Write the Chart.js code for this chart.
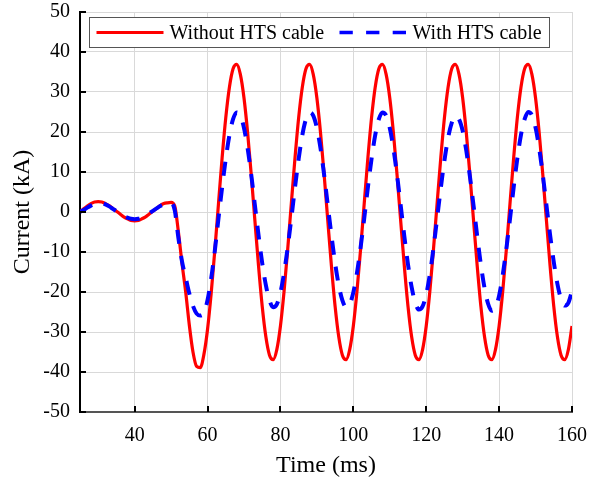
<!DOCTYPE html>
<html>
<head>
<meta charset="utf-8">
<script src="https://cdn.jsdelivr.net/npm/chart.js@4.4.0/dist/chart.umd.min.js"></script>
<style>
    html, body { margin: 0; padding: 0; background: #fff; }
    #wrap { width: 589px; height: 482px; }
</style>
</head>
<body>
<div id="wrap"><canvas id="current-chart" width="589" height="482"></canvas></div>
<script>
    // Sample times (ms)
    const timeMs = [
        25, 26, 27, 28, 29, 30, 31, 32, 33, 34,
        35, 36, 37, 38, 39, 40, 41, 42, 43, 44,
        45, 46, 47, 48, 49, 50, 51, 52, 53, 54,
        55, 56, 57, 58, 59, 60, 61, 62, 63, 64,
        65, 66, 67, 68, 69, 70, 71, 72, 73, 74,
        75, 76, 77, 78, 79, 80, 81, 82, 83, 84,
        85, 86, 87, 88, 89, 90, 91, 92, 93, 94,
        95, 96, 97, 98, 99, 100, 101, 102, 103, 104,
        105, 106, 107, 108, 109, 110, 111, 112, 113, 114,
        115, 116, 117, 118, 119, 120, 121, 122, 123, 124,
        125, 126, 127, 128, 129, 130, 131, 132, 133, 134,
        135, 136, 137, 138, 139, 140, 141, 142, 143, 144,
        145, 146, 147, 148, 149, 150, 151, 152, 153, 154,
        155, 156, 157, 158, 159, 160
    ];

    // Fault current without the HTS cable (kA)
    const currentWithout = [
        0.0, 0.8, 1.5, 2.1, 2.5, 2.6, 2.5, 2.1, 1.6, 0.9,
        0.2, -0.5, -1.2, -1.7, -2.1, -2.2, -2.1, -1.7, -1.2, -0.5,
        0.2, 0.9, 1.6, 2.1, 2.3, 2.4, 1.5, -5.0, -12.9, -20.0,
        -28.3, -35.0, -38.6, -38.9, -35.6, -29.3, -20.3, -9.5, 2.1, 13.6,
        23.6, 31.2, 35.8, 36.9, 34.4, 28.5, 19.8, 9.2, -2.3, -13.6,
        -23.6, -31.2, -35.8, -36.9, -34.4, -28.5, -19.8, -9.2, 2.3, 13.6,
        23.6, 31.2, 35.8, 36.9, 34.4, 28.5, 19.8, 9.2, -2.3, -13.6,
        -23.6, -31.2, -35.8, -36.9, -34.4, -28.5, -19.8, -9.2, 2.3, 13.6,
        23.6, 31.2, 35.8, 36.9, 34.4, 28.5, 19.8, 9.2, -2.3, -13.6,
        -23.6, -31.2, -35.8, -36.9, -34.4, -28.5, -19.8, -9.2, 2.3, 13.6,
        23.6, 31.2, 35.8, 36.9, 34.4, 28.5, 19.8, 9.2, -2.3, -13.6,
        -23.6, -31.2, -35.8, -36.9, -34.4, -28.5, -19.8, -9.2, 2.3, 13.6,
        23.6, 31.2, 35.8, 36.9, 34.4, 28.5, 19.8, 9.2, -2.3, -13.6,
        -23.6, -31.2, -35.8, -36.9, -34.4, -28.5
    ];

    // Fault current with the HTS cable (kA)
    const currentWith = [
        0.0, 0.5, 1.1, 1.6, 2.0, 2.2, 2.2, 1.9, 1.4, 0.8,
        0.2, -0.4, -1.0, -1.4, -1.7, -1.8, -1.7, -1.4, -0.9, -0.3,
        0.3, 0.9, 1.5, 1.9, 2.2, 2.3, 0.4, -6.5, -12.4, -16.4,
        -20.4, -23.5, -25.4, -25.9, -25.2, -22.0, -16.6, -9.6, -1.6, 6.2,
        13.3, 19.2, 23.2, 24.9, 24.1, 21.0, 15.9, 9.2, 1.6, -5.9,
        -12.8, -18.3, -22.1, -23.8, -23.1, -20.1, -15.2, -8.8, -1.5, 6.2,
        13.3, 19.2, 23.2, 24.9, 24.1, 21.0, 15.9, 9.2, 1.6, -5.9,
        -12.8, -18.3, -22.1, -23.8, -23.1, -20.1, -15.2, -8.8, -1.5, 6.2,
        13.3, 19.2, 23.2, 24.9, 24.1, 21.0, 15.9, 9.2, 1.6, -6.1,
        -13.1, -18.8, -22.7, -24.4, -23.6, -20.6, -15.6, -9.0, -1.5, 6.0,
        12.9, 18.5, 22.3, 24.0, 23.2, 20.3, 15.3, 8.8, 1.5, -6.1,
        -13.2, -19.0, -23.0, -24.7, -23.9, -20.9, -15.7, -9.1, -1.6, 6.2,
        13.4, 19.3, 23.2, 25.0, 24.2, 21.1, 15.9, 9.2, 1.6, -5.8,
        -12.5, -18.0, -21.8, -23.4, -22.7, -19.8
    ];

    const xTicks = [40, 60, 80, 100, 120, 140, 160];
    const yTicks = [-50, -40, -30, -20, -10, 0, 10, 20, 30, 40, 50];

    const seriesLabels = ['Without HTS cable', 'With HTS cable'];

    const SERIF = "'Liberation Serif', 'Times New Roman', serif";
    const GRID = '#d9d9d9';

    function toPoints(values) {
        return values.map((v, i) => ({ x: timeMs[i], y: v }));
    }

    // Inward tick marks and the boxed legend inside the plot
    const framePlugin = {
        id: 'frame',
        afterDraw(chart) {
            const ctx = chart.ctx;
            const area = chart.chartArea;
            const xs = chart.scales.x;
            const ys = chart.scales.y;

            ctx.save();
            ctx.strokeStyle = '#000';
            ctx.lineWidth = 2;
            ctx.beginPath();
            xTicks.forEach(v => {
                const px = Math.round(xs.getPixelForValue(v));
                ctx.moveTo(px, area.bottom);
                ctx.lineTo(px, area.bottom - 6);
            });
            yTicks.forEach(v => {
                const py = Math.round(ys.getPixelForValue(v));
                ctx.moveTo(area.left, py);
                ctx.lineTo(area.left + 6, py);
            });
            ctx.stroke();

            // legend box
            const bx = area.left + 9.5;
            const by = area.top + 5.5;
            const bw = 460;
            const bh = 30;
            ctx.fillStyle = '#fff';
            ctx.fillRect(bx, by, bw, bh);
            ctx.strokeStyle = '#555';
            ctx.lineWidth = 1;
            ctx.strokeRect(bx, by, bw, bh);

            const ly = by + 15;
            const ds = chart.data.datasets;
            ctx.font = '20px ' + SERIF;
            ctx.textBaseline = 'middle';
            ctx.fillStyle = '#000';

            ctx.strokeStyle = ds[1].borderColor;
            ctx.lineWidth = 3;
            ctx.setLineDash([]);
            ctx.beginPath();
            ctx.moveTo(bx + 7, ly);
            ctx.lineTo(bx + 74, ly);
            ctx.stroke();
            ctx.fillText(ds[1].label, bx + 80, ly + 1);

            ctx.strokeStyle = ds[0].borderColor;
            ctx.lineWidth = 3.5;
            ctx.setLineDash([13.3, 13.3]);
            ctx.beginPath();
            ctx.moveTo(bx + 250, ly);
            ctx.lineTo(bx + 317, ly);
            ctx.stroke();
            ctx.setLineDash([]);
            ctx.fillText(ds[0].label, bx + 323, ly + 1);
            ctx.restore();
        }
    };

    const ctx = document.getElementById('current-chart');

    new Chart(ctx, {
        type: 'line',
        data: {
            datasets: [
                {
                    label: seriesLabels[1],
                    data: toPoints(currentWith),
                    borderColor: '#0000ff',
                    borderWidth: 4,
                    borderDash: [14, 12],
                    pointRadius: 0,
                    cubicInterpolationMode: 'monotone',
                    fill: false,
                    order: 0
                },
                {
                    label: seriesLabels[0],
                    data: toPoints(currentWithout),
                    borderColor: '#ff0000',
                    borderWidth: 3.2,
                    pointRadius: 0,
                    cubicInterpolationMode: 'monotone',
                    fill: false,
                    order: 1
                }
            ]
        },
        options: {
            responsive: false,
            animation: false,
            devicePixelRatio: 1,
            layout: {
                padding: { top: 12, right: 17, bottom: 0, left: 0 }
            },
            plugins: {
                legend: { display: false },
                tooltip: { enabled: false }
            },
            scales: {
                x: {
                    type: 'linear',
                    min: 25,
                    max: 160,
                    afterBuildTicks: scale => {
                        scale.ticks = xTicks.map(v => ({ value: v }));
                    },
                    afterFit: scale => {
                        scale.height = 70;
                        scale.paddingLeft = 0;
                        scale.paddingRight = 0;
                    },
                    grid: { color: GRID, lineWidth: 1, drawTicks: false },
                    border: { color: '#555', width: 2 },
                    ticks: {
                        color: '#000',
                        padding: 12,
                        maxRotation: 0,
                        font: { family: SERIF, size: 20 }
                    },
                    title: {
                        display: true,
                        text: 'Time (ms)',
                        color: '#000',
                        padding: { top: 0, bottom: 2 },
                        font: { family: SERIF, size: 24 }
                    }
                },
                y: {
                    min: -50,
                    max: 50,
                    afterBuildTicks: scale => {
                        scale.ticks = yTicks.map(v => ({ value: v }));
                    },
                    afterFit: scale => {
                        scale.width = 80;
                        scale.paddingTop = 0;
                        scale.paddingBottom = 0;
                    },
                    grid: { color: GRID, lineWidth: 1, drawTicks: false },
                    border: { color: '#000', width: 2 },
                    ticks: {
                        color: '#000',
                        padding: 10,
                        font: { family: SERIF, size: 20 }
                    },
                    title: {
                        display: true,
                        text: 'Current (kA)',
                        color: '#000',
                        padding: { top: 8, bottom: 0 },
                        font: { family: SERIF, size: 24 }
                    }
                }
            }
        },
        plugins: [framePlugin]
    });
</script>
</body>
</html>
